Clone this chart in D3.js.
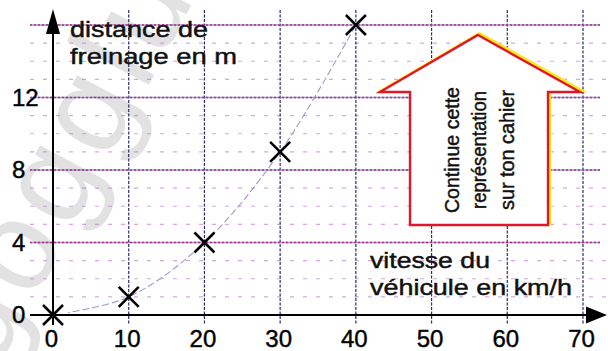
<!DOCTYPE html>
<html>
<head>
<meta charset="utf-8">
<script src="https://cdn.jsdelivr.net/npm/d3@7/dist/d3.min.js"></script>
<style>
  html, body { margin: 0; padding: 0; background: #fff; }
  svg { display: block; }
  text { font-family: "Liberation Sans", Arial, Helvetica, sans-serif; }
  .ink { stroke: #111; stroke-width: 0.45px; }
</style>
</head>
<body>
<svg id="chart" width="608" height="351"></svg>
<script>
// Vitesse (km/h) et distance de freinage (m)
const speeds = [0, 10, 20, 30, 40];
const distances = [0, 1, 4, 9, 16];

// Graduations
const xTicks = [0, 10, 20, 30, 40, 50, 60, 70];
const yTicks = [0, 4, 8, 12];
const yMajorLines = [4, 8, 12, 16];
const yMinorLines = [1, 2, 3, 5, 6, 7, 9, 10, 11, 13, 14, 15];

const yTitle = ["distance de", "freinage en m"];
const xTitle = ["vitesse du", "véhicule en km/h"];
const arrowText = ["Continue cette", "représentation", "sur ton cahier"];

const W = 608, H = 351;
const svg = d3.select("#chart");

const x = d3.scaleLinear().domain([0, 70]).range([53, 583]);
const y = d3.scaleLinear().domain([0, 16]).range([315, 25]);

// filigrane
svg.append("text")
  .attr("transform", "translate(-4,372) rotate(-62)")
  .attr("font-size", 128)
  .attr("fill", "#e2e2e2")
  .attr("letter-spacing", 8)
  .text("gogglu");

// quadrillage : lignes secondaires
const grid = svg.append("g");
grid.selectAll("line.minor")
  .data(yMinorLines)
  .join("line")
  .attr("class", "minor")
  .attr("x1", 30).attr("x2", W)
  .attr("y1", d => y(d)).attr("y2", d => y(d))
  .attr("stroke", "#b573c8")
  .attr("stroke-width", 1.2)
  .attr("stroke-dasharray", "4,9")
  .attr("opacity", 0.6);

// lignes verticales
grid.selectAll("line.vert")
  .data(xTicks.filter(d => d > 0))
  .join("line")
  .attr("class", "vert")
  .attr("x1", d => x(d)).attr("x2", d => x(d))
  .attr("y1", 10).attr("y2", 325)
  .attr("stroke", "#2b2c6e")
  .attr("stroke-width", 1.2)
  .attr("stroke-dasharray", "3,1.5");

// lignes principales
grid.selectAll("line.majorBase")
  .data(yMajorLines)
  .join("line")
  .attr("class", "majorBase")
  .attr("x1", 30).attr("x2", W - 8)
  .attr("y1", d => y(d)).attr("y2", d => y(d))
  .attr("stroke", "#5b7ad0")
  .attr("stroke-width", 1.4)
  .attr("opacity", 0.7);
grid.selectAll("line.major")
  .data(yMajorLines)
  .join("line")
  .attr("class", "major")
  .attr("x1", 30).attr("x2", W - 8)
  .attr("y1", d => y(d)).attr("y2", d => y(d))
  .attr("stroke", "#c8276e")
  .attr("stroke-width", 1.4)
  .attr("stroke-dasharray", "2,2");

// courbe pointillée passant par les points mesurés
svg.append("clipPath").attr("id", "curveClip")
  .append("rect")
  .attr("x", x(2)).attr("y", 0).attr("width", W).attr("height", H);
const pts = speeds.map((s, i) => [s, distances[i]]);
const curve = d3.line()
  .x(d => x(d[0]))
  .y(d => y(d[1]))
  .curve(d3.curveCatmullRom.alpha(0.5));
svg.append("path")
  .datum(pts)
  .attr("clip-path", "url(#curveClip)")
  .attr("fill", "none")
  .attr("stroke", "#a098c8")
  .attr("stroke-width", 1.1)
  .attr("stroke-dasharray", "7,3")
  .attr("d", curve);

// axes
const axisG = svg.append("g");
axisG.append("line")
  .attr("x1", 30).attr("x2", 590)
  .attr("y1", y(0)).attr("y2", y(0))
  .attr("stroke", "#000").attr("stroke-width", 2);
axisG.append("path")
  .attr("d", `M${W - 1},${y(0)} L${586},${y(0) - 8.5} L${586},${y(0) + 8.5} Z`)
  .attr("fill", "#000");
axisG.append("line")
  .attr("x1", x(0)).attr("x2", x(0))
  .attr("y1", 325).attr("y2", 30)
  .attr("stroke", "#000").attr("stroke-width", 2);
axisG.append("path")
  .attr("d", `M${x(0)},9 L${x(0) - 7},34 L${x(0) + 7},34 Z`)
  .attr("fill", "#000");

// étiquettes des graduations
const xAxis = d3.axisBottom(x).tickValues(xTicks).tickSize(0).tickPadding(15);
const gx = svg.append("g").attr("transform", `translate(0,${y(0)})`).call(xAxis);
gx.select(".domain").remove();
gx.selectAll("text")
  .attr("class", "ink")
  .attr("font-family", "Liberation Sans, Arial, sans-serif")
  .attr("font-size", 24)
  .attr("dx", -2)
  .attr("fill", "#000");

const yAxis = d3.axisLeft(y).tickValues(yTicks).tickSize(0).tickPadding(0);
const gy = svg.append("g").attr("transform", `translate(${x(0)},0)`).call(yAxis);
gy.select(".domain").remove();
gy.selectAll("text")
  .attr("class", "ink")
  .attr("font-family", "Liberation Sans, Arial, sans-serif")
  .attr("font-size", 24)
  .attr("text-anchor", "start")
  .attr("x", 12 - x(0))
  .attr("fill", "#000");

// titres des axes
const yTitleLayout = [{x: 70, y: 37, w: 138}, {x: 70, y: 64, w: 167}];
svg.selectAll("text.ytitle")
  .data(yTitle)
  .join("text")
  .attr("class", "ytitle ink")
  .attr("x", (d, i) => yTitleLayout[i].x)
  .attr("y", (d, i) => yTitleLayout[i].y)
  .attr("textLength", (d, i) => yTitleLayout[i].w)
  .attr("lengthAdjust", "spacingAndGlyphs")
  .attr("font-size", 22)
  .attr("fill", "#111")
  .text(d => d);

const xTitleLayout = [{x: 370, y: 268, w: 120}, {x: 370, y: 295, w: 202}];
svg.selectAll("text.xtitle")
  .data(xTitle)
  .join("text")
  .attr("class", "xtitle ink")
  .attr("x", (d, i) => xTitleLayout[i].x)
  .attr("y", (d, i) => xTitleLayout[i].y)
  .attr("textLength", (d, i) => xTitleLayout[i].w)
  .attr("lengthAdjust", "spacingAndGlyphs")
  .attr("font-size", 22)
  .attr("fill", "#111")
  .text(d => d);

// flèche « continue »
const arrowPath = "M478,35 L580,92 L548,92 L548,225 L410,225 L410,92 L380,92 Z";
svg.append("path")
  .attr("d", arrowPath)
  .attr("transform", "translate(1.6,-1.4)")
  .attr("fill", "none")
  .attr("stroke", "#ffe81a")
  .attr("stroke-width", 3.2)
  .attr("stroke-linejoin", "miter");
svg.append("path")
  .attr("d", arrowPath)
  .attr("fill", "#fff")
  .attr("stroke", "#e0162b")
  .attr("stroke-width", 2.4)
  .attr("stroke-linejoin", "miter");

const arrowBaselines = [459, 486, 514];
const arrowLens = [126, 118, 120];
svg.selectAll("text.arrow")
  .data(arrowText)
  .join("text")
  .attr("class", "arrow ink")
  .attr("transform", (d, i) => `translate(${arrowBaselines[i]},150) rotate(-90)`)
  .attr("text-anchor", "middle")
  .attr("font-size", 20)
  .attr("textLength", (d, i) => arrowLens[i])
  .attr("lengthAdjust", "spacingAndGlyphs")
  .attr("fill", "#111")
  .text(d => d);

// points (croix)
const r = 10;
const marks = svg.append("g").selectAll("g.pt")
  .data(pts)
  .join("g")
  .attr("class", "pt")
  .attr("transform", d => `translate(${x(d[0])},${y(d[1])})`);
marks.append("line").attr("x1", -r).attr("y1", -r).attr("x2", r).attr("y2", r);
marks.append("line").attr("x1", -r).attr("y1", r).attr("x2", r).attr("y2", -r);
marks.selectAll("line").attr("stroke", "#000").attr("stroke-width", 2.5);
</script>
</body>
</html>
